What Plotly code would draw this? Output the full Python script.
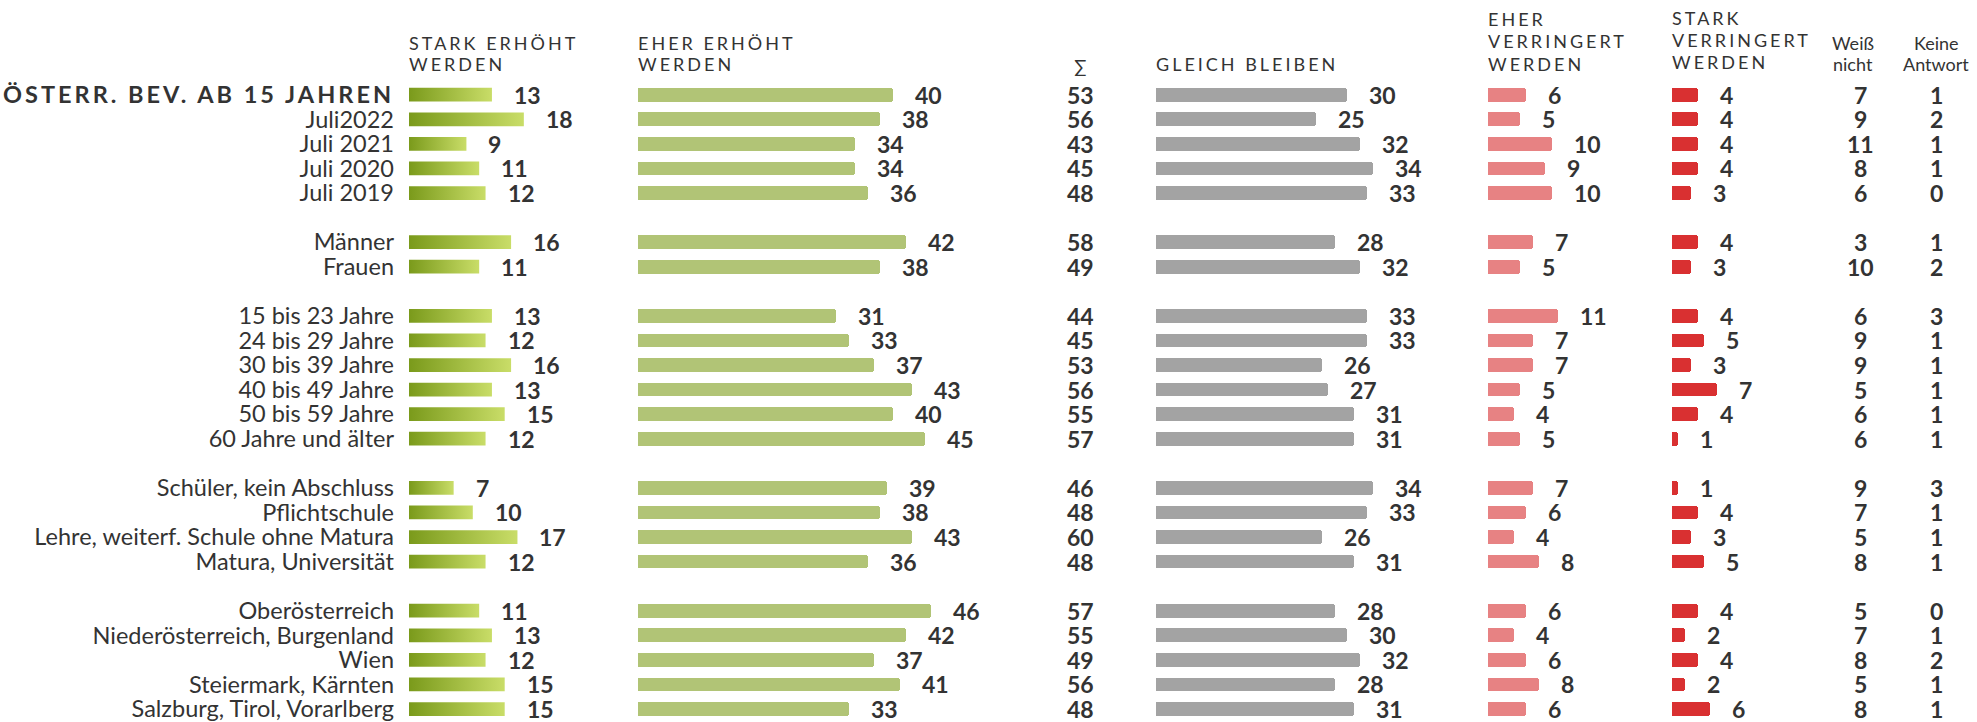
import plotly.graph_objects as go

# ---------------- data ----------------
labels = [
    "ÖSTERR. BEV. AB 15 JAHREN", "Juli2022", "Juli 2021", "Juli 2020", "Juli 2019",
    "Männer", "Frauen",
    "15 bis 23 Jahre", "24 bis 29 Jahre", "30 bis 39 Jahre", "40 bis 49 Jahre",
    "50 bis 59 Jahre", "60 Jahre und älter",
    "Schüler, kein Abschluss", "Pflichtschule", "Lehre, weiterf. Schule ohne Matura",
    "Matura, Universität",
    "Oberösterreich", "Niederösterreich, Burgenland", "Wien", "Steiermark, Kärnten",
    "Salzburg, Tirol, Vorarlberg",
]
group_sizes = [5, 2, 6, 4, 5]

stark_erhoeht = [13, 18, 9, 11, 12, 16, 11, 13, 12, 16, 13, 15, 12, 7, 10, 17, 12, 11, 13, 12, 15, 15]
eher_erhoeht = [40, 38, 34, 34, 36, 42, 38, 31, 33, 37, 43, 40, 45, 39, 38, 43, 36, 46, 42, 37, 41, 33]
summe = [53, 56, 43, 45, 48, 58, 49, 44, 45, 53, 56, 55, 57, 46, 48, 60, 48, 57, 55, 49, 56, 48]
gleich_bleiben = [30, 25, 32, 34, 33, 28, 32, 33, 33, 26, 27, 31, 31, 34, 33, 26, 31, 28, 30, 32, 28, 31]
eher_verringert = [6, 5, 10, 9, 10, 7, 5, 11, 7, 7, 5, 4, 5, 7, 6, 4, 8, 6, 4, 6, 8, 6]
stark_verringert = [4, 4, 4, 4, 3, 4, 3, 4, 5, 3, 7, 4, 1, 1, 4, 3, 5, 4, 2, 4, 2, 6]
weiss_nicht = [7, 9, 11, 8, 6, 3, 10, 6, 9, 9, 5, 6, 6, 9, 7, 5, 8, 5, 7, 8, 5, 8]
keine_antwort = [1, 2, 1, 1, 0, 1, 2, 3, 1, 1, 1, 1, 1, 3, 1, 1, 1, 0, 1, 2, 1, 1]

# ---------------- layout constants ----------------
W, H = 1977, 722
ROW0, ROWSTEP = 95.0, 24.64      # pixel centre of first row, row pitch
K = 6.38                          # pixels per percentage point
BARW = 0.56
FONT = "Lato"
TXT = "#333333"

slots = []
s = 0
for n in group_sizes:
    for _ in range(n):
        slots.append(s)
        s += 1
    s += 1

y_range = [(H - ROW0) / ROWSTEP, -ROW0 / ROWSTEP]


def dom(start_px, vmax):
    return [start_px / W, (start_px + K * vmax) / W]


X_STARK = 409
fig = go.Figure()

# columns: axis id, start px, range max, values, colour
bar_cols = [
    ("x2", 638, 50, eher_erhoeht, "#b1c476"),
    ("x3", 1156, 36, gleich_bleiben, "#a3a3a3"),
    ("x4", 1488, 12, eher_verringert, "#e78283"),
    ("x5", 1672, 8, stark_verringert, "#d93031"),
]

# stark erhöht: gradient bars (one filled polygon per bar so each gets its own gradient)
for v, yc in zip(stark_erhoeht, slots):
    fig.add_trace(go.Scatter(
        x=[0, v, v, 0, 0],
        y=[yc - BARW / 2, yc - BARW / 2, yc + BARW / 2, yc + BARW / 2, yc - BARW / 2],
        mode="lines", fill="toself", line=dict(width=0),
        fillgradient=dict(type="horizontal",
                          colorscale=[[0, "#7a9a1b"], [1, "#c9dd68"]]),
        xaxis="x", yaxis="y", hoverinfo="skip", showlegend=False,
    ))

for ax, start, vmax, vals, col in bar_cols:
    fig.add_trace(go.Bar(
        x=vals, y=slots, orientation="h", width=BARW,
        marker=dict(color=col, cornerradius=3, line=dict(width=0)),
        xaxis=ax, yaxis="y", hoverinfo="skip", showlegend=False,
    ))

# text-only columns (centred on their own axis)
text_cols = [
    ("x6", 1080, summe),
    ("x7", 1860, weiss_nicht),
    ("x8", 1936, keine_antwort),
]
for ax, cx, vals in text_cols:
    fig.add_trace(go.Scatter(
        x=[0] * len(vals), y=slots, mode="markers", marker=dict(opacity=0),
        xaxis=ax, yaxis="y", hoverinfo="skip", showlegend=False,
    ))

annotations = []
NUMFONT = dict(family=FONT, size=23, color=TXT, weight="bold")
for ax, cx, vals in text_cols:
    for v, yc in zip(vals, slots):
        annotations.append(dict(
            x=0, y=yc, xref=ax, yref="y", text=str(v), showarrow=False,
            xanchor="center", yanchor="middle", font=NUMFONT,
        ))

# value labels next to bars
all_cols = [("x", X_STARK, 20, stark_erhoeht)] + [(a, s0, m, v) for a, s0, m, v, _ in bar_cols]
for ax, start, vmax, vals in all_cols:
    for v, yc in zip(vals, slots):
        annotations.append(dict(
            x=v, y=yc, xref=ax, yref="y", text=str(v), showarrow=False,
            xanchor="left", yanchor="middle", xshift=20, font=NUMFONT,
        ))


def spaced(t, ls=3):
    return f'<span style="letter-spacing:{ls}px">{t}</span>'


headers = [
    (["STARK ERHÖHT", "WERDEN"], X_STARK, [43.5, 64.5]),
    (["EHER ERHÖHT", "WERDEN"], 638, [43.5, 64.5]),
    (["GLEICH BLEIBEN"], 1156, [64.5]),
    (["EHER", "VERRINGERT", "WERDEN"], 1488, [19.5, 41.5, 64.5]),
    (["STARK", "VERRINGERT", "WERDEN"], 1672, [18.0, 40.0, 62.5]),
]
for lines, xpx, ys in headers:
    for ln, ypx in zip(lines, ys):
        annotations.append(dict(
            x=xpx / W, y=1 - ypx / H, xref="paper", yref="paper", text=spaced(ln),
            showarrow=False, xanchor="left", yanchor="middle", xshift=-2,
            font=dict(family=FONT, size=18, color=TXT),
        ))

small_headers = [
    (["Weiß", "nicht"], 1853, [43.5, 64.5]),
    (["Keine", "Antwort"], 1936, [43.5, 64.5]),
    (["∑"], 1080, [66.5]),
]
for lines, xpx, ys in small_headers:
    for ln, ypx in zip(lines, ys):
        annotations.append(dict(
            x=xpx / W, y=1 - ypx / H, xref="paper", yref="paper", text=ln,
            showarrow=False, xanchor="center", yanchor="middle",
            font=dict(family=FONT, size=18, color=TXT),
        ))

ticktext = [f'<b>{spaced(labels[0], 3.0)}</b>'] + labels[1:]

layout = dict(
    width=W, height=H,
    margin=dict(l=0, r=0, t=0, b=0, pad=0),
    paper_bgcolor="white", plot_bgcolor="white",
    showlegend=False, bargap=0,
    annotations=annotations,
    yaxis=dict(
        domain=[0, 1], range=y_range, anchor="x",
        tickmode="array", tickvals=slots, ticktext=ticktext,
        showgrid=False, zeroline=False, showline=False, ticks="",
        ticklabelstandoff=14, ticklabeloverflow="allow",
        tickfont=dict(family=FONT, size=23.5, color=TXT),
    ),
)
axis_defs = [("x", X_STARK, 20)] + [(a, s0, m) for a, s0, m, _, _ in bar_cols]
for ax, start, vmax in axis_defs:
    key = "xaxis" if ax == "x" else "xaxis" + ax[1:]
    layout[key] = dict(domain=dom(start, vmax), range=[0, vmax], anchor="y",
                       visible=False, fixedrange=True)
for ax, cx, _ in text_cols:
    key = "xaxis" + ax[1:]
    layout[key] = dict(domain=[(cx - 20) / W, (cx + 20) / W], range=[-1, 1],
                       anchor="y", visible=False, fixedrange=True)

fig.update_layout(**layout)

fig.write_html("out.html", post_script="document.body.style.margin='0';",
               config={"displayModeBar": False})
